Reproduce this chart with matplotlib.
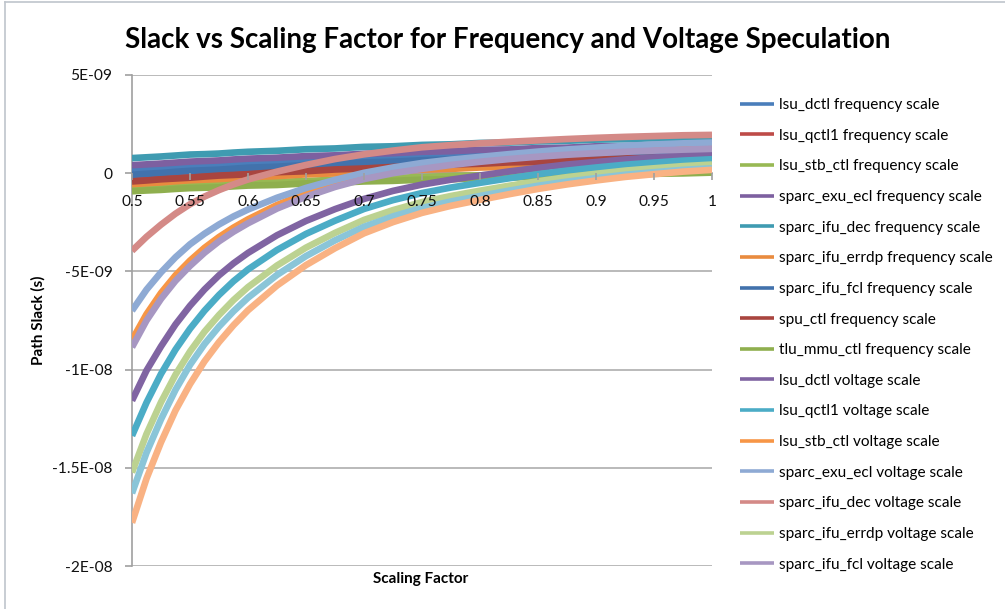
import matplotlib
matplotlib.use("Agg")
import matplotlib.pyplot as plt
from matplotlib.lines import Line2D
from matplotlib.ticker import FuncFormatter, MultipleLocator

plt.rcParams['font.family'] = ['Lato', 'DejaVu Sans']

# Scaling factor samples (shared by every series); denser where the curves bend most
scaling = [0.5000, 0.5125, 0.5250, 0.5375, 0.5500, 0.5625, 0.5750, 0.5875, 0.6000,
           0.625, 0.650, 0.675, 0.700, 0.725, 0.750, 0.775, 0.800, 0.825, 0.850,
           0.875, 0.900, 0.925, 0.950, 0.975, 1.000]

# Path slack in nanoseconds -- frequency speculation
lsu_dctl_freq = [0.15, 0.20, 0.25, 0.28, 0.32, 0.37, 0.42, 0.44, 0.47,
                 0.56, 0.61, 0.69, 0.73, 0.81, 0.84, 0.91, 0.95, 1.01, 1.04, 1.10, 1.13, 1.19, 1.21, 1.27, 1.30]
lsu_qctl1_freq = [-0.31, -0.26, -0.20, -0.16, -0.12, -0.06, -0.01, 0.03, 0.06,
                  0.16, 0.21, 0.30, 0.35, 0.43, 0.47, 0.55, 0.59, 0.66, 0.69, 0.77, 0.80, 0.86, 0.89, 0.95, 0.99]
lsu_stb_ctl_freq = [-0.80, -0.76, -0.71, -0.68, -0.65, -0.61, -0.57, -0.55, -0.52,
                    -0.44, -0.40, -0.33, -0.29, -0.23, -0.20, -0.14, -0.11, -0.05, -0.03, 0.03, 0.05, 0.10, 0.12, 0.17, 0.20]
sparc_exu_ecl_freq = [0.41, 0.45, 0.49, 0.54, 0.59, 0.62, 0.65, 0.70, 0.74,
                      0.79, 0.87, 0.91, 0.99, 1.02, 1.09, 1.12, 1.19, 1.21, 1.28, 1.30, 1.37, 1.38, 1.44, 1.46, 1.51]
sparc_ifu_dec_freq = [0.77, 0.81, 0.85, 0.90, 0.95, 0.97, 1.00, 1.05, 1.09,
                      1.14, 1.22, 1.26, 1.34, 1.37, 1.44, 1.47, 1.54, 1.56, 1.62, 1.65, 1.71, 1.73, 1.78, 1.80, 1.85]
sparc_ifu_errdp_freq = [-0.56, -0.51, -0.47, -0.41, -0.36, -0.33, -0.30, -0.25, -0.20,
                        -0.15, -0.06, -0.01, 0.07, 0.11, 0.18, 0.22, 0.29, 0.32, 0.39, 0.41, 0.48, 0.50, 0.57, 0.59, 0.64]
sparc_ifu_fcl_freq = [-0.08, -0.03, 0.01, 0.07, 0.12, 0.15, 0.18, 0.23, 0.28,
                      0.33, 0.42, 0.47, 0.55, 0.59, 0.66, 0.70, 0.77, 0.80, 0.87, 0.89, 0.96, 0.98, 1.05, 1.07, 1.12]
spu_ctl_freq = [-0.42, -0.37, -0.31, -0.27, -0.23, -0.17, -0.12, -0.09, -0.05,
                0.05, 0.10, 0.19, 0.24, 0.32, 0.36, 0.44, 0.48, 0.55, 0.58, 0.66, 0.69, 0.75, 0.78, 0.84, 0.88]
tlu_mmu_ctl_freq = [-0.92, -0.88, -0.85, -0.80, -0.76, -0.74, -0.72, -0.67, -0.63,
                    -0.60, -0.52, -0.49, -0.42, -0.39, -0.33, -0.31, -0.25, -0.23, -0.17, -0.15, -0.09, -0.08, -0.03, -0.01, 0.03]

# Path slack in nanoseconds -- voltage speculation
lsu_dctl_volt = [-11.58, -10.05, -8.82, -7.70, -6.75, -5.92, -5.20, -4.59, -4.06,
                 -3.16, -2.43, -1.83, -1.31, -0.90, -0.58, -0.33, -0.12, 0.09, 0.27, 0.44, 0.57, 0.70, 0.80, 0.89, 0.95]
lsu_qctl1_volt = [-13.37, -11.68, -10.22, -8.98, -7.92, -7.00, -6.20, -5.50, -4.90,
                  -3.91, -3.09, -2.42, -1.82, -1.37, -1.01, -0.73, -0.49, -0.26, -0.05, 0.13, 0.29, 0.43, 0.54, 0.64, 0.71]
lsu_stb_ctl_volt = [-8.50, -7.18, -6.10, -5.20, -4.45, -3.80, -3.25, -2.77, -2.35,
                    -1.62, -1.02, -0.53, -0.14, 0.15, 0.37, 0.56, 0.71, 0.84, 0.95, 1.05, 1.13, 1.20, 1.26, 1.31, 1.35]
sparc_exu_ecl_volt = [-7.00, -5.93, -5.05, -4.28, -3.62, -3.08, -2.61, -2.20, -1.85,
                      -1.25, -0.75, -0.34, 0.02, 0.29, 0.52, 0.69, 0.83, 0.97, 1.10, 1.21, 1.30, 1.39, 1.46, 1.52, 1.56]
sparc_ifu_dec_volt = [-3.95, -3.24, -2.62, -2.06, -1.58, -1.19, -0.86, -0.57, -0.32,
                      0.08, 0.42, 0.72, 0.96, 1.15, 1.32, 1.43, 1.52, 1.60, 1.67, 1.74, 1.80, 1.85, 1.89, 1.93, 1.95]
sparc_ifu_errdp_volt = [-15.24, -13.28, -11.66, -10.26, -9.08, -8.07, -7.22, -6.46, -5.80,
                        -4.70, -3.79, -3.04, -2.38, -1.88, -1.47, -1.16, -0.89, -0.64, -0.41, -0.20, -0.03, 0.13, 0.25, 0.36, 0.44]
sparc_ifu_fcl_volt = [-8.86, -7.50, -6.40, -5.48, -4.72, -4.05, -3.47, -2.98, -2.55,
                      -1.80, -1.20, -0.70, -0.30, 0.00, 0.22, 0.42, 0.58, 0.72, 0.84, 0.94, 1.02, 1.09, 1.15, 1.20, 1.24]
spu_ctl_volt = [-16.30, -14.23, -12.53, -11.03, -9.76, -8.70, -7.81, -7.03, -6.34,
                -5.18, -4.22, -3.42, -2.73, -2.20, -1.77, -1.44, -1.16, -0.89, -0.64, -0.43, -0.25, -0.08, 0.05, 0.17, 0.25]
tlu_mmu_ctl_volt = [-17.80, -15.55, -13.70, -12.08, -10.74, -9.58, -8.60, -7.74, -6.98,
                    -5.72, -4.68, -3.82, -3.06, -2.49, -2.02, -1.66, -1.36, -1.07, -0.80, -0.57, -0.37, -0.19, -0.05, 0.08, 0.17]

series_names = [
    "lsu_dctl frequency scale", "lsu_qctl1 frequency scale", "lsu_stb_ctl frequency scale",
    "sparc_exu_ecl frequency scale", "sparc_ifu_dec frequency scale",
    "sparc_ifu_errdp frequency scale", "sparc_ifu_fcl frequency scale",
    "spu_ctl frequency scale", "tlu_mmu_ctl frequency scale",
    "lsu_dctl voltage scale", "lsu_qctl1 voltage scale", "lsu_stb_ctl voltage scale",
    "sparc_exu_ecl voltage scale", "sparc_ifu_dec voltage scale",
    "sparc_ifu_errdp voltage scale", "sparc_ifu_fcl voltage scale",
    "spu_ctl voltage scale", "tlu_mmu_ctl voltage scale",
]
series_values = [
    lsu_dctl_freq, lsu_qctl1_freq, lsu_stb_ctl_freq, sparc_exu_ecl_freq, sparc_ifu_dec_freq,
    sparc_ifu_errdp_freq, sparc_ifu_fcl_freq, spu_ctl_freq, tlu_mmu_ctl_freq,
    lsu_dctl_volt, lsu_qctl1_volt, lsu_stb_ctl_volt, sparc_exu_ecl_volt, sparc_ifu_dec_volt,
    sparc_ifu_errdp_volt, sparc_ifu_fcl_volt, spu_ctl_volt, tlu_mmu_ctl_volt,
]
series_colors = [
    "#4A7EBB", "#BE4B48", "#98B954", "#7D60A0", "#3F9BB1", "#E98B3F", "#4272AC", "#A9453F", "#8FAF4E",
    "#8064A2", "#4BACC6", "#F79646", "#8EAAD4", "#D48A87", "#BCD291", "#A797C2", "#8AC5D8", "#F9B283",
]
legend_count = 16
NS = 1e-9

W, H = 1005, 609
fig = plt.figure(figsize=(W / 100, H / 100), dpi=100)
fig.patch.set_facecolor("white")

# chart-area border
border = "#BFC5CC"
fig.add_artist(Line2D([5 / W, 5 / W], [0, 1 - 2 / H], transform=fig.transFigure, color=border, lw=1.2))
fig.add_artist(Line2D([5 / W, 1], [1 - 2 / H, 1 - 2 / H], transform=fig.transFigure, color=border, lw=1.2))

ax = fig.add_axes([132 / W, 1 - 566 / H, 580 / W, 491 / H])
ax.set_xlim(0.5, 1.0)
ax.set_ylim(-2e-8, 5e-9)
ax.xaxis.set_major_locator(MultipleLocator(0.05))
ax.yaxis.set_major_locator(MultipleLocator(5e-9))

# horizontal gridlines sit underneath the data
for yv in ax.get_yticks():
    if -2e-8 - 1e-15 <= yv <= 5e-9 + 1e-15:
        ax.axhline(yv, color="#B4B4B4", lw=1.3, zorder=0.5)

lines = []
for name, vals, color in zip(series_names, series_values, series_colors):
    ln, = ax.plot(scaling, [v * NS for v in vals], color=color, lw=4.8, label=name,
                  solid_capstyle="butt", solid_joinstyle="round", zorder=2)
    lines.append(ln)

ax.xaxis.set_major_formatter(FuncFormatter(lambda v, p: f"{round(v, 2):g}"))
ax.yaxis.set_major_formatter(FuncFormatter(lambda v, p: "0" if abs(v) < 1e-15 else f"{v:.2G}"))

axis_gray = "#A0A0A0"
for side in ("top", "right"):
    ax.spines[side].set_visible(False)
ax.spines["bottom"].set_position(("data", 0))
for side in ("bottom", "left"):
    ax.spines[side].set_color(axis_gray)
    ax.spines[side].set_linewidth(1.2)
    ax.spines[side].set_zorder(0.6)
ax.set_axisbelow(False)
ax.tick_params(axis="x", direction="out", length=5, width=1.2, color=axis_gray,
               labelsize=11.2, pad=10.5, labelcolor="#111111")
ax.tick_params(axis="y", direction="out", length=5, width=1.2, color=axis_gray,
               labelsize=11.2, pad=9, labelcolor="#111111")

fig.text(508 / W, 1 - 40 / H, "Slack vs Scaling Factor for Frequency and Voltage Speculation",
         ha="center", va="center", fontsize=20, fontweight="bold", color="#000000")
fig.text(38 / W, 1 - 320 / H, "Path Slack (s)", ha="center", va="center", rotation=90,
         fontsize=11, fontweight="bold")
fig.text(421 / W, 1 - 579 / H, "Scaling Factor", ha="center", va="center",
         fontsize=11, fontweight="bold")

leg = fig.legend(lines[:legend_count], series_names[:legend_count], loc="upper left",
                 bbox_to_anchor=(740 / W, 1 - 98 / H), frameon=False, fontsize=11.1,
                 handlelength=2.2, handletextpad=0.33, labelspacing=1.08,
                 borderpad=0, borderaxespad=0)
for h in leg.legend_handles:
    h.set_linewidth(2.6)

fig.savefig("out.png", dpi=100)
